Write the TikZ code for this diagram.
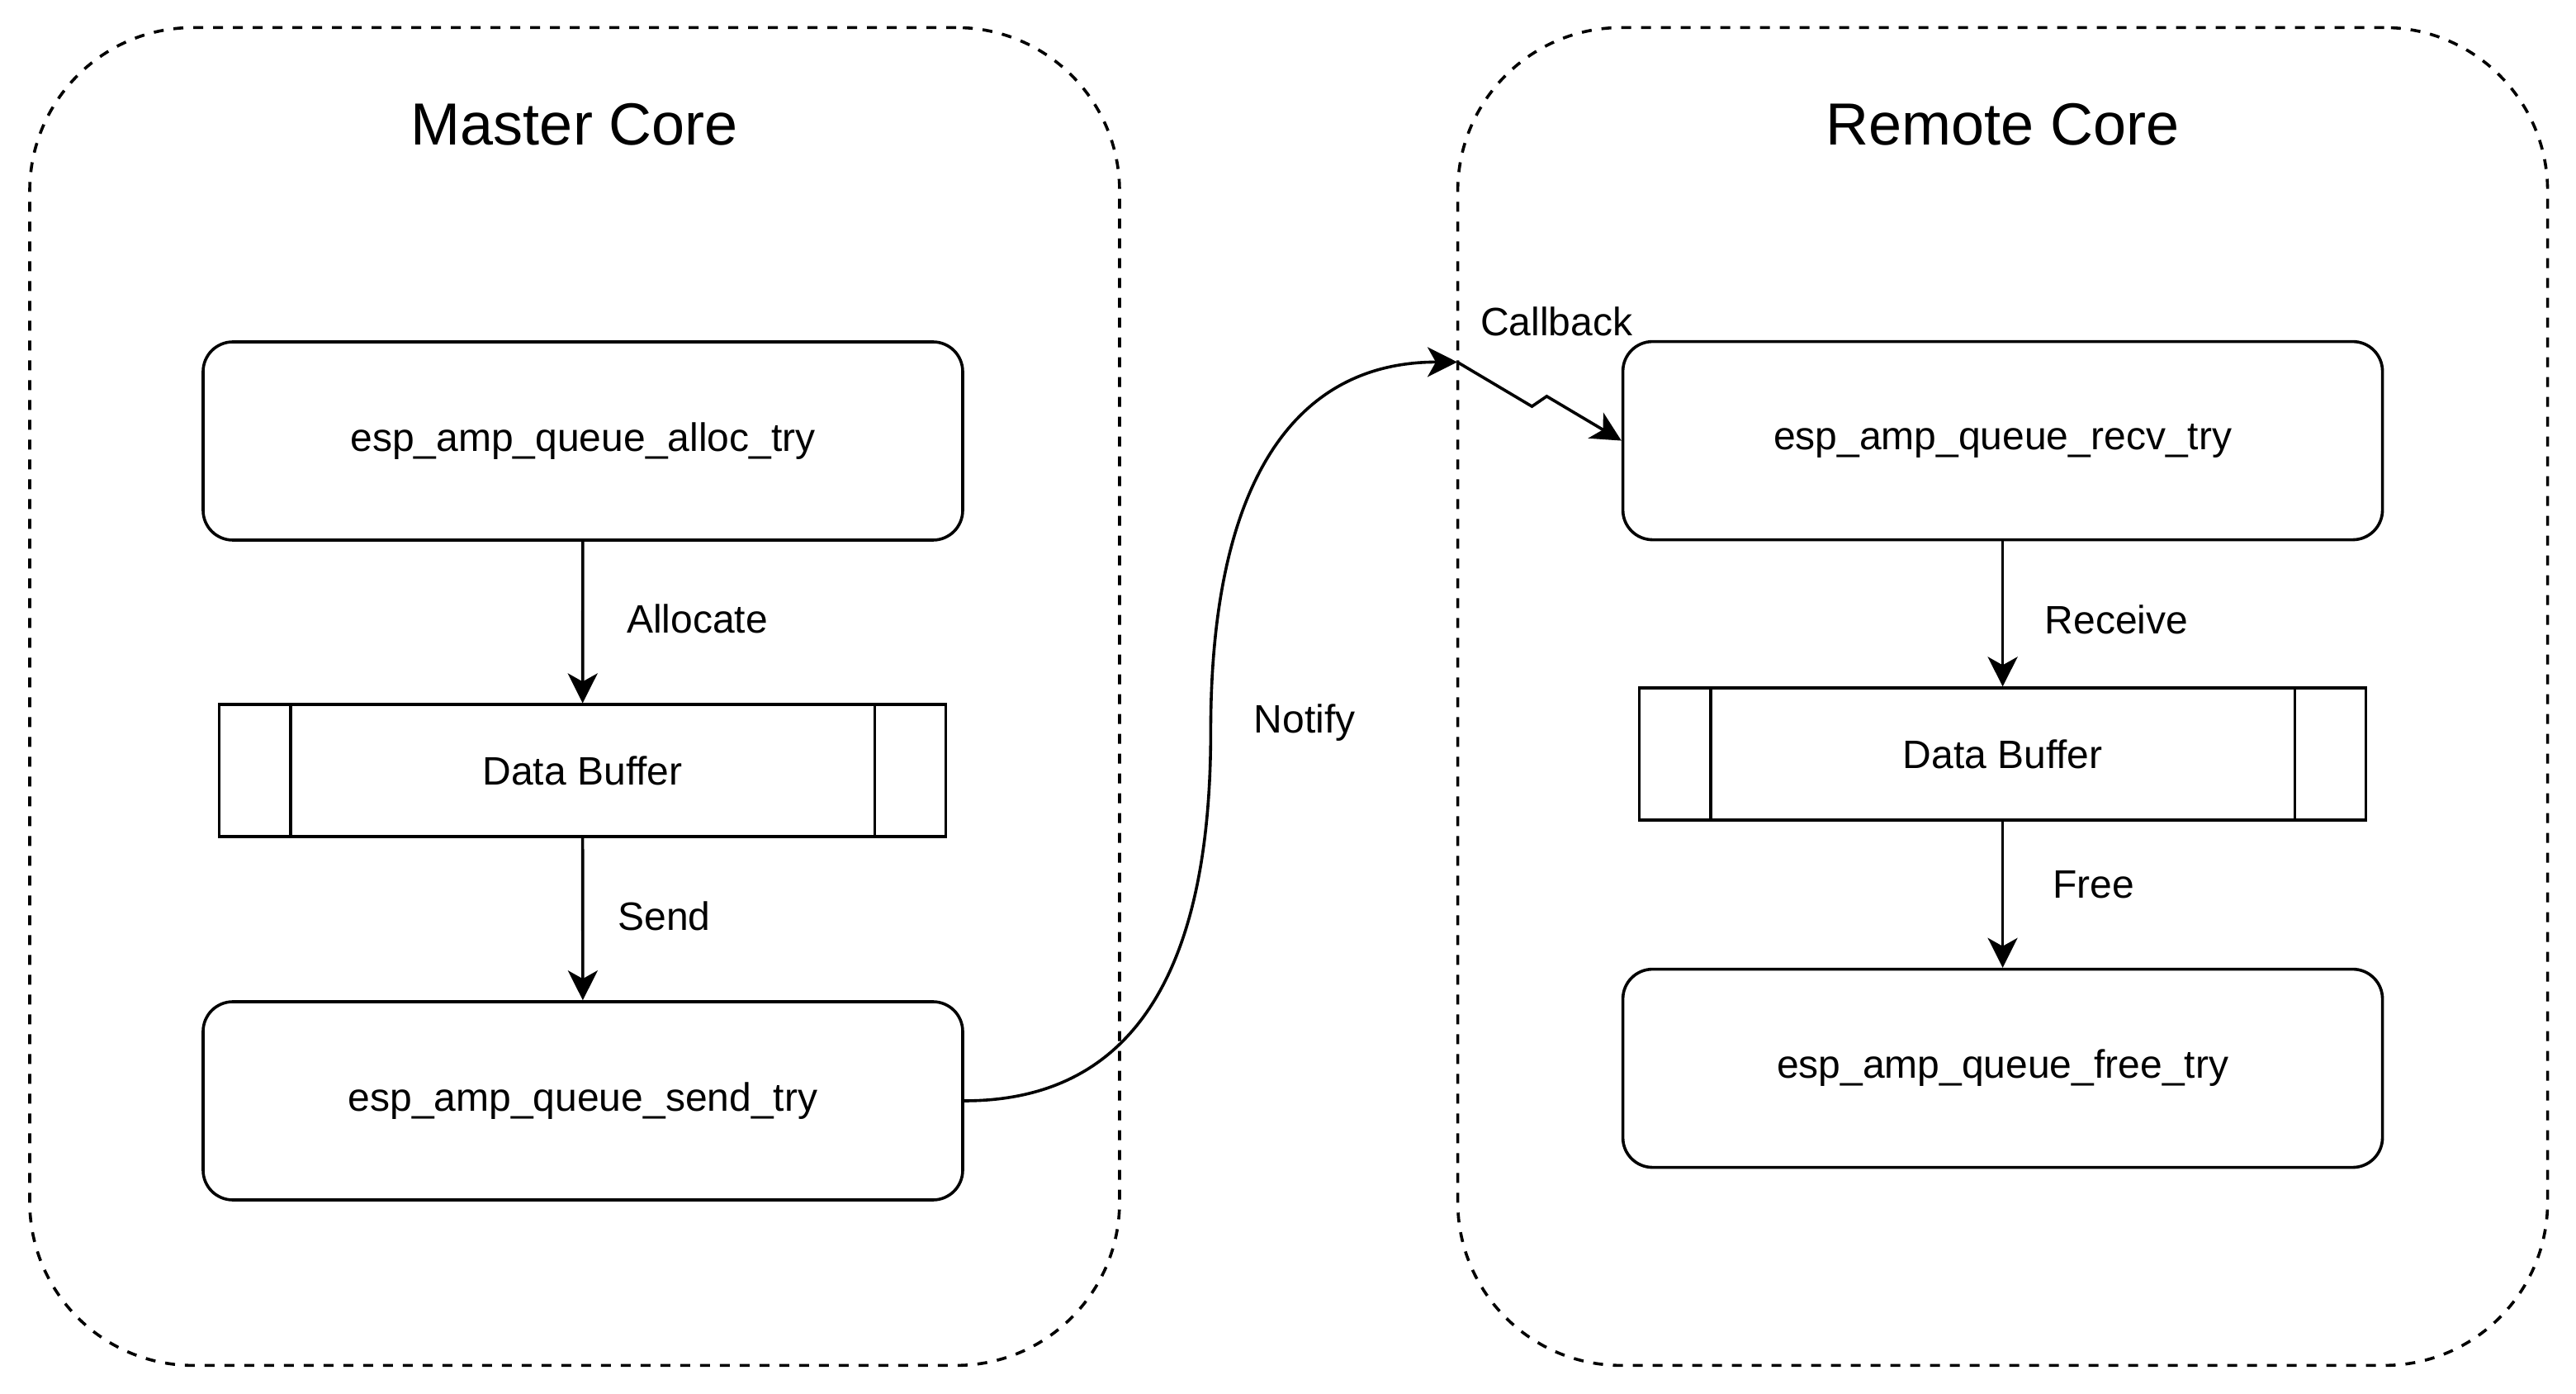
\documentclass[tikz,border=0pt]{standalone}
\usepackage{fontspec}
\setmainfont{Liberation Sans}
\usetikzlibrary{arrows.meta,calc}
\tikzstyle{core} = [draw,line width=0.9pt,dash pattern=on 3pt off 3pt,rounded corners=49.5pt,minimum width=330pt,minimum height=405pt]
\tikzstyle{func} = [draw,line width=0.9pt,rounded corners=9pt,minimum width=230pt,minimum height=60pt,font=\fontsize{12}{14}\selectfont]
\tikzstyle{buf} = [draw,line width=0.9pt,minimum width=220pt,minimum height=40pt,font=\fontsize{12}{14}\selectfont]
\tikzstyle{flow} = [line width=0.9pt,-{Stealth[length=9pt,width=9pt,inset=2.5pt]}]
\tikzstyle{lbl} = [anchor=west,inner sep=0pt,text height=8.6pt,text depth=0pt,font=\fontsize{12}{14}\selectfont]
\tikzstyle{title} = [anchor=base,inner sep=0pt,font=\fontsize{18}{22}\selectfont]

\begin{document}
\begin{tikzpicture}[x=1pt,y=-1pt]
    \useasboundingbox (0,0) rectangle (780,422);
    \node[core] (master) at (174,210.85) {};
    \node[core] (remote) at (606.4,210.85) {};
    \node[title] at (174,44) {Master Core};
    \node[title] at (606.4,44) {Remote Core};

    \node[func] (alloc) at (176.5,133.5) {esp\_amp\_queue\_alloc\_try};
    \node[buf] (bufL) at (176.4,233.3) {Data Buffer};
    \node[func] (send) at (176.5,333.25) {esp\_amp\_queue\_send\_try};
    \draw [line width=0.9pt] ([xshift=22pt]bufL.north west) -- ([xshift=22pt]bufL.south west);
    \draw [line width=0.9pt] ([xshift=-22pt]bufL.north east) -- ([xshift=-22pt]bufL.south east);

    \node[func] (recv) at (606.4,133.4) {esp\_amp\_queue\_recv\_try};
    \node[buf] (bufR) at (606.4,228.3) {Data Buffer};
    \node[func] (free) at (606.4,323.4) {esp\_amp\_queue\_free\_try};
    \draw [line width=0.9pt] ([xshift=22pt]bufR.north west) -- ([xshift=22pt]bufR.south west);
    \draw [line width=0.9pt] ([xshift=-22pt]bufR.north east) -- ([xshift=-22pt]bufR.south east);

    \draw [flow] (alloc) -- (bufL);
    \draw [flow] (bufL) -- (send);
    \draw [flow] (recv) -- (bufR);
    \draw [flow] (bufR) -- (free);
    \node[lbl] at (189.6,187.4) {Allocate};
    \node[lbl] at (186.9,277.4) {Send};
    \node[lbl] at (619,187.7) {Receive};
    \node[lbl] at (621.4,267.7) {Free};

    \coordinate (cb) at (441.25,109.6);
    \coordinate (nmid) at ($(send.east)!.5!(cb)$);
    \draw [flow] (send.east) .. controls +(49.9,0) and +(0,74.57) .. (nmid)
        .. controls +(0,-74.57) and +(-49.9,0) .. (cb);
    \node[lbl] at (379.5,217.5) {Notify};

    \draw [flow] (cb) -- ($(cb)!.455!(recv.west)+(0,2.6)$) -- ($(cb)!.545!(recv.west)+(0,-2.6)$) -- (recv.west);
    \node[lbl] at (448.1,97.3) {Callback};
\end{tikzpicture}
\end{document}
